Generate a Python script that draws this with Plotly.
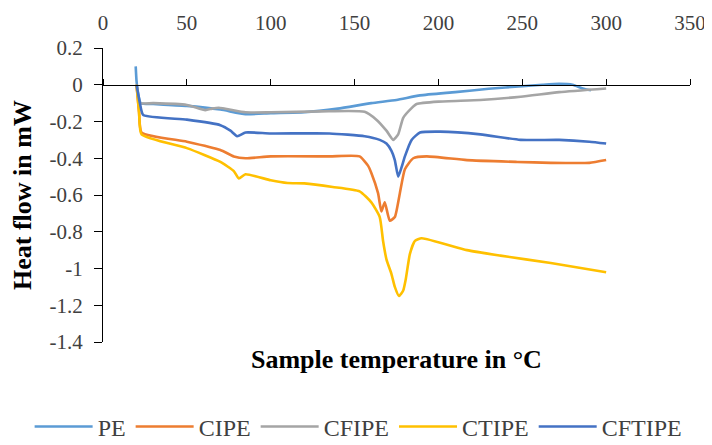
import plotly.graph_objects as go

# ---- data ----
series_names = ["PE", "CIPE", "CFIPE", "CTIPE", "CFTIPE"]
series_colors = ["#5B9BD5", "#ED7D31", "#A5A5A5", "#FFC000", "#4472C4"]

pe_t = [19.5, 20, 21, 22.5, 30, 50, 70, 85, 100, 120, 140, 160, 175, 189, 210, 230, 250, 262, 272, 280, 286, 291]
pe_v = [0.1, 0.02, -0.05, -0.1, -0.105, -0.115, -0.135, -0.16, -0.155, -0.15, -0.13, -0.1, -0.083, -0.058,
        -0.04, -0.022, -0.008, 0.0, 0.005, 0.0, -0.02, -0.03]

cipe_t = [20, 21.5, 23, 50, 70, 78, 85, 100, 135, 153, 158, 160, 164, 166, 168, 171, 174, 177, 180, 185,
          193, 217, 247, 267, 290, 300]
cipe_v = [0, -0.15, -0.26, -0.31, -0.355, -0.39, -0.4, -0.39, -0.39, -0.39, -0.44, -0.48, -0.59, -0.69,
          -0.64, -0.74, -0.72, -0.59, -0.46, -0.4, -0.39, -0.41, -0.42, -0.425, -0.425, -0.41]

cfipe_t = [20, 22, 30, 50, 61, 65, 69, 85, 100, 130, 156, 163, 169, 173, 176, 179, 184, 187, 200, 225,
           249, 272, 300]
cfipe_v = [0, -0.1, -0.1, -0.11, -0.138, -0.13, -0.125, -0.15, -0.15, -0.145, -0.147, -0.19, -0.25, -0.3,
           -0.27, -0.18, -0.127, -0.105, -0.092, -0.083, -0.065, -0.04, -0.02]

ctipe_t = [20, 21.5, 23, 50, 70, 78, 81, 85, 100, 110, 120, 137, 153, 160, 165, 167, 169, 172, 174, 176.5,
           179, 180.5, 183, 186, 190, 217, 237, 267, 300]
ctipe_v = [0, -0.15, -0.27, -0.345, -0.42, -0.47, -0.51, -0.487, -0.52, -0.535, -0.537, -0.556, -0.58,
           -0.64, -0.72, -0.85, -0.95, -1.03, -1.1, -1.15, -1.12, -1.06, -0.92, -0.85, -0.835, -0.9,
           -0.93, -0.97, -1.02]

cftipe_t = [20, 22, 24, 50, 70, 76, 80, 85, 100, 135, 156, 165, 169, 172, 174, 176, 178, 180, 184, 189,
            201, 225, 249, 272, 290, 300]
cftipe_v = [0, -0.1, -0.165, -0.19, -0.22, -0.25, -0.28, -0.26, -0.265, -0.265, -0.28, -0.3, -0.32,
            -0.36, -0.41, -0.5, -0.45, -0.39, -0.3, -0.26, -0.255, -0.27, -0.3, -0.3, -0.31, -0.32]

x_ticks = [0, 50, 100, 150, 200, 250, 300, 350]
y_ticks = [0.2, 0, -0.2, -0.4, -0.6, -0.8, -1, -1.2, -1.4]
y_tick_labels = ["0.2", "0", "-0.2", "-0.4", "-0.6", "-0.8", "-1", "-1.2", "-1.4"]

x_title = "Sample temperature in °C"
y_title = "Heat flow in mW"

# ---- figure ----
FONT = "Liberation Serif, Times New Roman, serif"
all_t = [pe_t, cipe_t, cfipe_t, ctipe_t, cftipe_t]
all_v = [pe_v, cipe_v, cfipe_v, ctipe_v, cftipe_v]

fig = go.Figure()
for name, color, t, v in zip(series_names, series_colors, all_t, all_v):
    fig.add_trace(go.Scatter(x=t, y=v, mode="lines", name=name,
                             line=dict(color=color, width=2.6, shape="spline", smoothing=0.5)))

# invisible trace to make the crossing axis (at y = 0) render
fig.add_trace(go.Scatter(x=[x_ticks[0]], y=[0], xaxis="x2", mode="markers",
                         marker=dict(opacity=0), showlegend=False, hoverinfo="skip"))

# the page body has an 8px margin, so the figure is 8px smaller than the window
fig.update_layout(
    width=704, height=437,
    margin=dict(l=95, r=22, t=40, b=103, autoexpand=False),
    paper_bgcolor="white", plot_bgcolor="white",
    font=dict(family=FONT, size=21, color="#404040"),
    xaxis=dict(range=[0, 350], tickvals=x_ticks, side="top", showline=False, ticks="",
               showgrid=False, zeroline=False, ticklabelstandoff=13, automargin=False,
               tickfont=dict(family=FONT, size=21, color="#404040")),
    xaxis2=dict(range=[0, 350], tickvals=x_ticks, overlaying="x", anchor="free", position=0.875,
                side="top", showline=True, linecolor="black", linewidth=1.3, ticks="outside",
                ticklen=6, tickcolor="black", tickwidth=1.3, showticklabels=False,
                showgrid=False, zeroline=False, automargin=False),
    yaxis=dict(range=[-1.4, 0.2], tickvals=y_ticks, ticktext=y_tick_labels, showline=True,
               linecolor="black", linewidth=1.3, ticks="outside", ticklen=8, tickcolor="black",
               tickwidth=1.3, showgrid=False, zeroline=False, automargin=False,
               ticklabelstandoff=7,
               tickfont=dict(family=FONT, size=21, color="#404040"),
               title=dict(text="<b>" + y_title + "</b>", standoff=10,
                          font=dict(family=FONT, size=26, color="black"))),
    legend=dict(orientation="h", x=-0.125, xanchor="left", y=-0.289, yanchor="middle",
                font=dict(family=FONT, size=24, color="#404040"),
                itemwidth=58, bgcolor="rgba(0,0,0,0)"),
    annotations=[dict(text="<b>" + x_title + "</b>", xref="paper", yref="paper", x=0.5, y=-0.061,
                      xanchor="center", yanchor="middle", showarrow=False,
                      font=dict(family=FONT, size=26, color="black"))],
)

fig.write_html("out.html")
